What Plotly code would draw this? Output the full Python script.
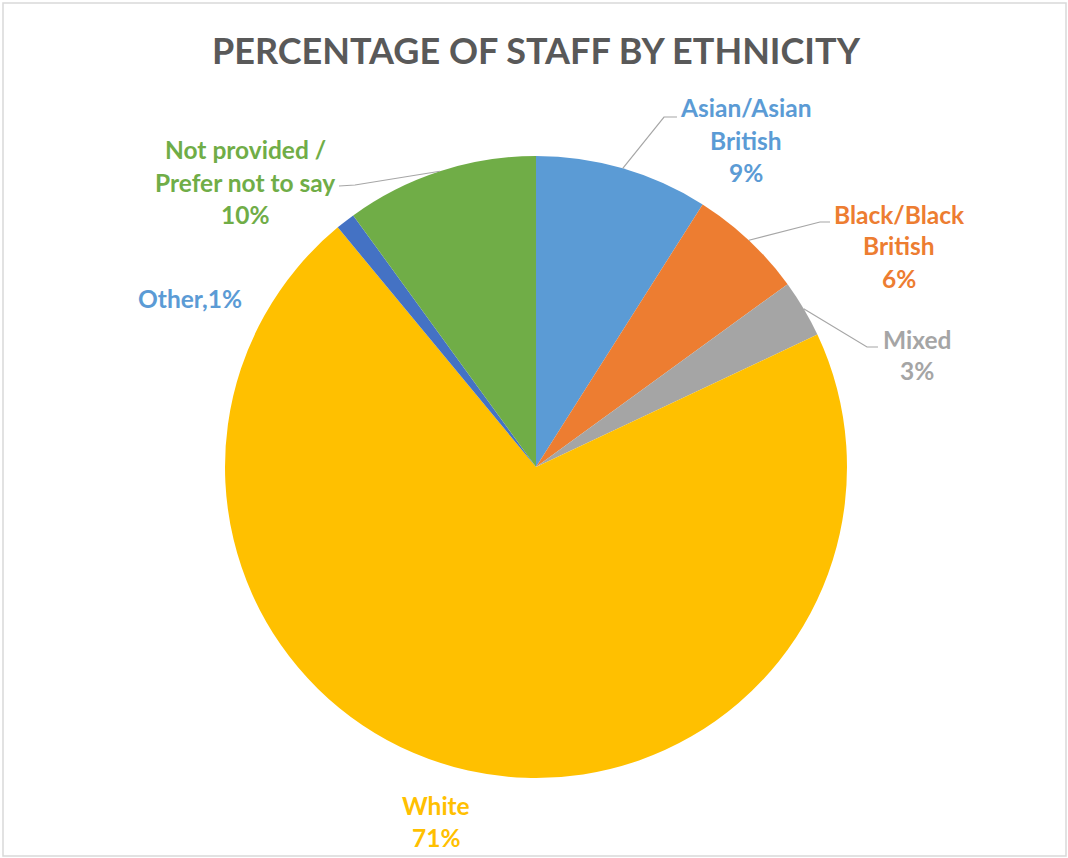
import math
import plotly.graph_objects as go

categories = ["Asian/Asian British", "Black/Black British", "Mixed", "White", "Other", "Not provided / Prefer not to say"]
values = [9, 6, 3, 71, 1, 10]
slice_colors = ["#5B9BD5", "#ED7D31", "#A5A5A5", "#FFC000", "#4472C4", "#70AD47"]
label_colors = ["#5B9BD5", "#ED7D31", "#A5A5A5", "#FFC000", "#5B9BD5", "#70AD47"]
label_lines = [["Asian/Asian", "British", "9%"],
               ["Black/Black", "British", "6%"],
               ["Mixed", "3%"],
               ["White", "71%"],
               ["Other,1%"],
               ["Not provided /", "Prefer not to say", "10%"]]

W, H = 1068, 858
CX, CY, R = 536, 467, 311

# label layout (pixel positions of first line centre) and leader elbows
label_pos = [(746, 108), (899, 214), (917, 339), (436, 805), (190, 298), (245, 150)]
leader = [[(664, 117), (677, 117)],
          [(820, 222), (830, 222)],
          [(867, 347), (878, 347)],
          None,
          None,
          [(355, 185), (339, 186)]]

def px(x):
    return x / W

def py(y):
    return 1 - y / H

fig = go.Figure()
fig.add_trace(go.Pie(
    labels=categories, values=values, sort=False, direction="clockwise", rotation=0,
    marker=dict(colors=slice_colors, line=dict(width=0)),
    textinfo="none", hoverinfo="label+percent", showlegend=False,
    domain=dict(x=[px(CX - R), px(CX + R)], y=[py(CY + R), py(CY - R)]),
))

annotations = []
shapes = []
total = sum(values)
cum = 0
LINE_H = 32
for i, v in enumerate(values):
    mid = (cum + v / 2) / total * 2 * math.pi
    cum += v
    lx, ly = label_pos[i]
    for j, t in enumerate(label_lines[i]):
        annotations.append(dict(
            x=px(lx), y=py(ly + j * LINE_H), xref="paper", yref="paper",
            text="<b>%s</b>" % t, showarrow=False, xanchor="center", yanchor="middle",
            font=dict(family="Lato, sans-serif", size=24.5, color=label_colors[i])))
    if leader[i]:
        sx = CX + R * math.sin(mid)
        sy = CY - R * math.cos(mid)
        pts = [(sx, sy)] + leader[i]
        path = "M " + " L ".join("%f,%f" % (px(a), py(b)) for a, b in pts)
        shapes.append(dict(type="path", path=path, xref="paper", yref="paper",
                           line=dict(color="#A6A6A6", width=1.2)))

annotations.append(dict(
    x=px(536), y=py(50), xref="paper", yref="paper",
    text="<b>PERCENTAGE OF STAFF BY ETHNICITY</b>", showarrow=False,
    xanchor="center", yanchor="middle",
    font=dict(family="Lato, sans-serif", size=36, color="#595959")))

shapes.append(dict(type="rect", xref="paper", yref="paper",
                   x0=px(3), x1=px(1066), y0=py(856), y1=py(3),
                   line=dict(color="#D9D9D9", width=1.5)))

fig.update_layout(
    width=W, height=H, margin=dict(l=0, r=0, t=0, b=0),
    paper_bgcolor="white", plot_bgcolor="white",
    annotations=annotations, shapes=shapes,
)

fig.write_html("out.html")
